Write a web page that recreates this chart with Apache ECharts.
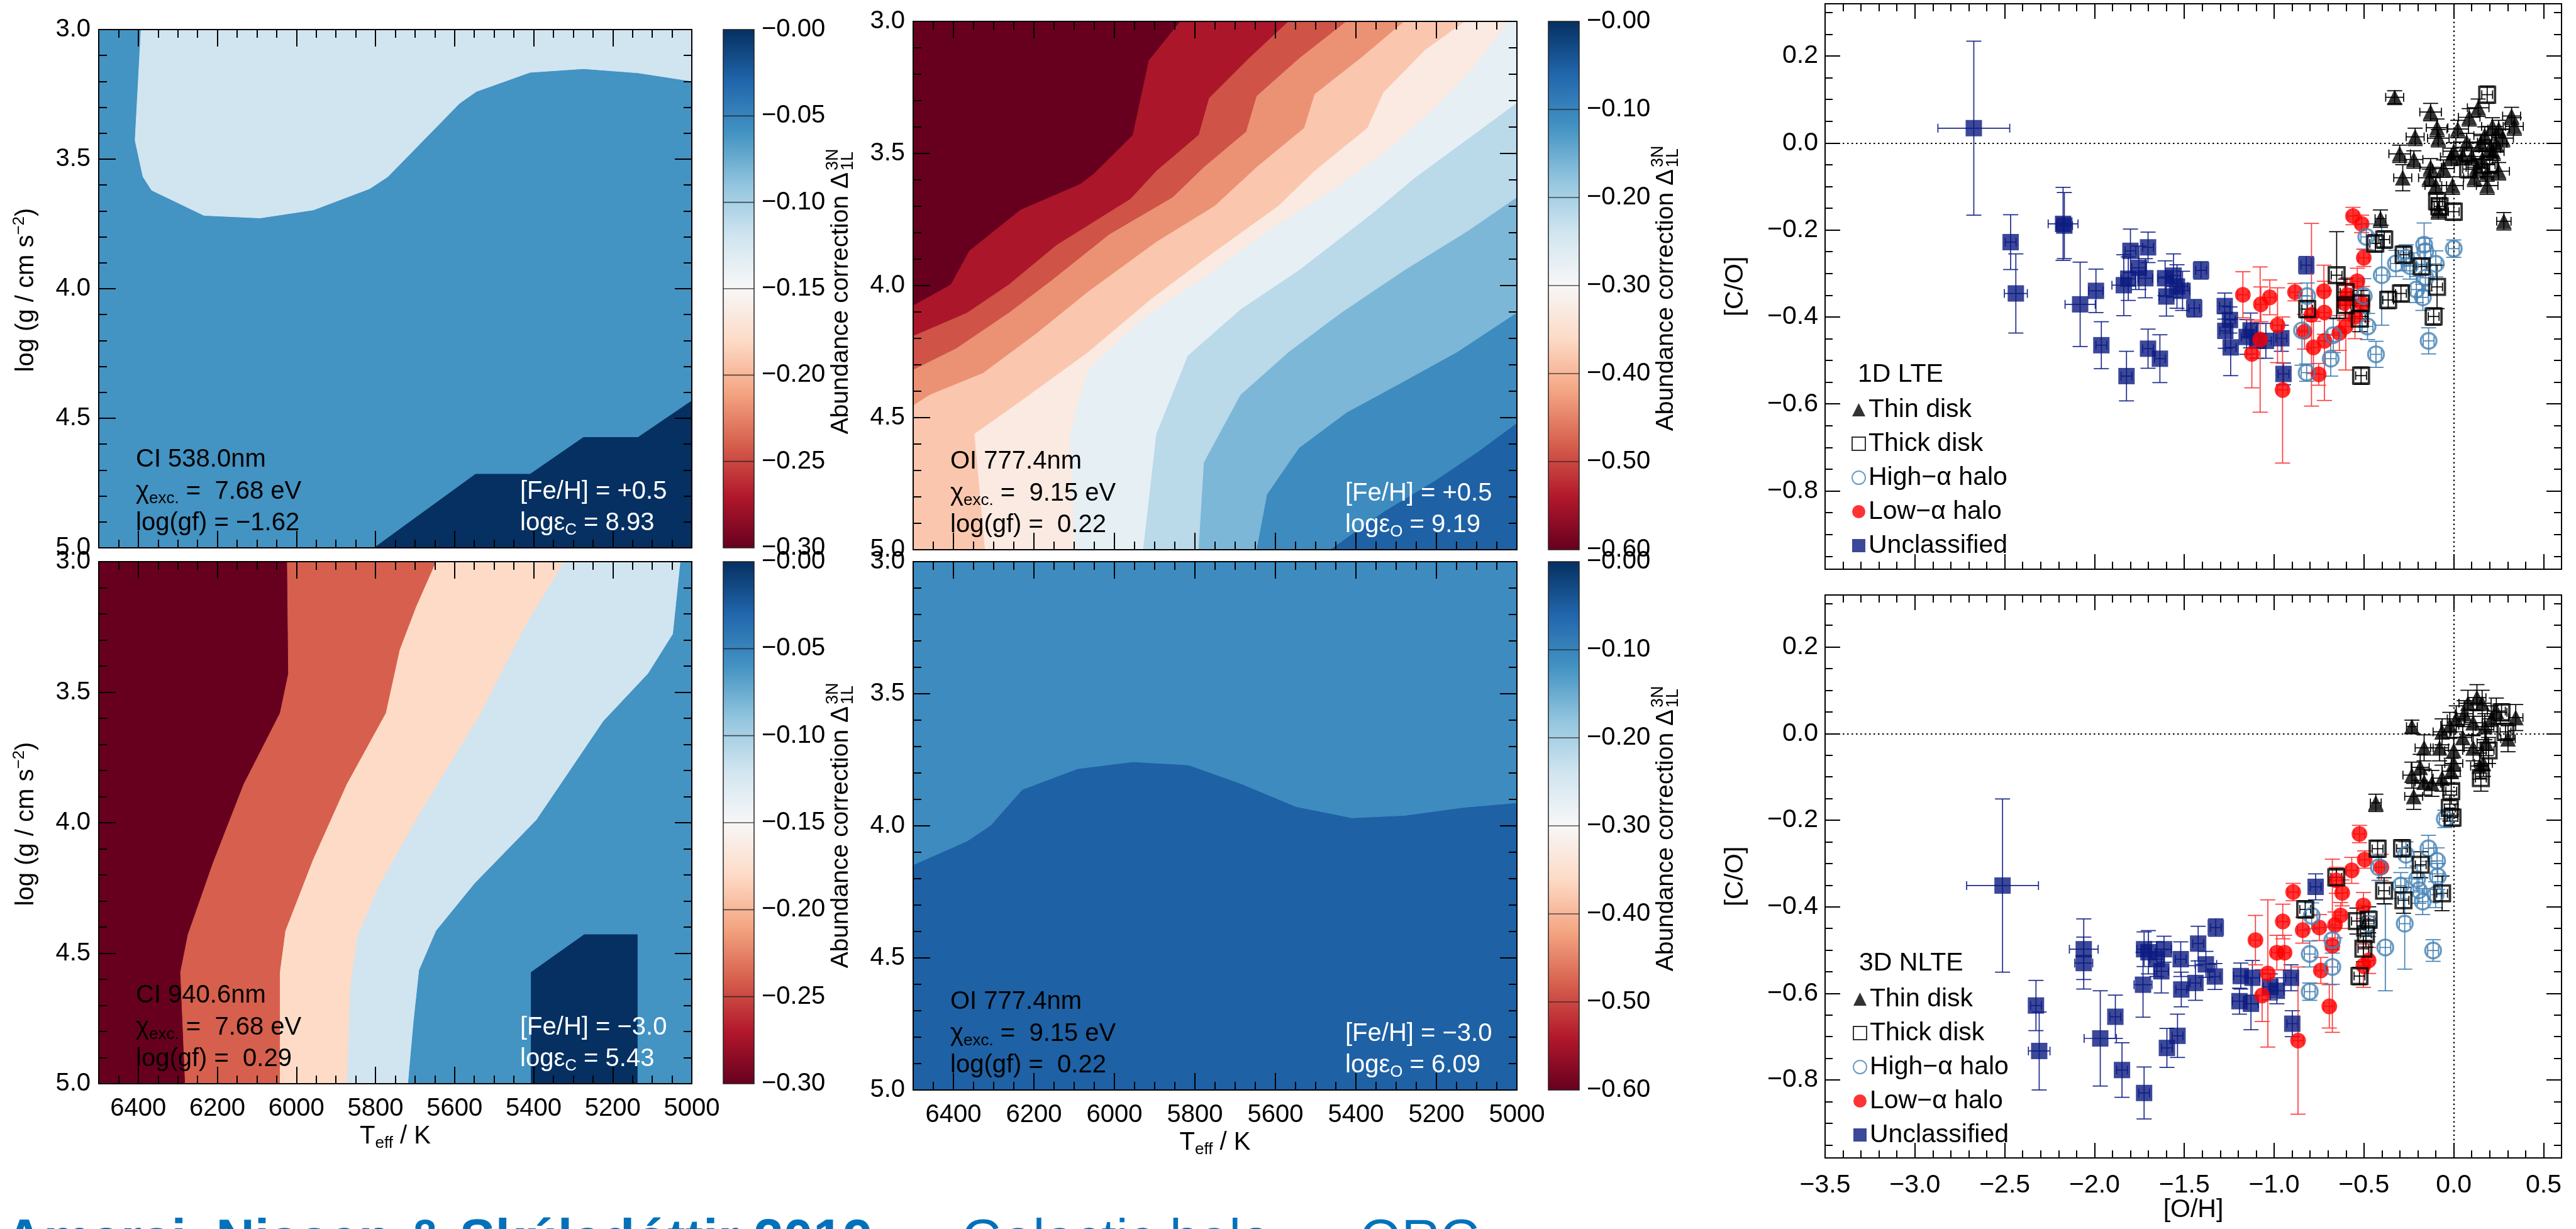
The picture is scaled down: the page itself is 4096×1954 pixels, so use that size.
<!DOCTYPE html>
<html>
<head>
<meta charset="utf-8">
<script src="https://cdn.jsdelivr.net/npm/echarts@6.0.0/dist/echarts.min.js"></script>
<style>
html,body{margin:0;padding:0;background:#ffffff;overflow:hidden;}
#chart{width:4096px;height:1954px;}
</style>
</head>
<body>
<div id="chart"></div>
<script>
// ================= tick labels =================
const teffTicks = [6400, 6200, 6000, 5800, 5600, 5400, 5200, 5000];
const loggTicks = [3.0, 3.5, 4.0, 4.5, 5.0];
const cbTicksC = [-0.30, -0.25, -0.20, -0.15, -0.10, -0.05, 0.00];
const cbTicksO = [-0.60, -0.50, -0.40, -0.30, -0.20, -0.10, 0.00];
const ohTicks = [-3.5, -3.0, -2.5, -2.0, -1.5, -1.0, -0.5, 0.0, 0.5];
const coTicks = [-0.8, -0.6, -0.4, -0.2, 0.0, 0.2];

// ================= contour boundaries: [Teff, logg] =================
// C I 538.0 nm, [Fe/H] = +0.5  (bands of 0.05 from -0.30 to 0)
const ci538Base = 4;
const ci538Light = [[6393,3.0],[6408,3.428],[6388,3.568],[6366,3.62],[6234,3.717],[6092,3.727],[5957,3.696],[5815,3.614],[5769,3.568],[5587,3.284],[5545,3.239],[5409,3.165],[5274,3.151],[5136,3.167],[5000,3.199]];
const ci538Dark = [[5000,4.433],[5136,4.574],[5274,4.574],[5409,4.716],[5547,4.716],[5803,5.0]];

// O I 777.4 nm, [Fe/H] = +0.5  (bands of 0.05 from -0.60 to 0)
const oiHiBase = 0;
const oiHiB1 = [[5836,3.0],[5914,3.148],[5954,3.431],[6052,3.579],[6085,3.617],[6233,3.714],[6360,3.869],[6406,3.997],[6500,4.077]];
const oiHiB2 = [[5567,3.0],[5666,3.141],[5764,3.290],[5790,3.43],[5895,3.566],[5960,3.673],[6144,3.848],[6262,3.997],[6366,4.104],[6500,4.192]];
const oiHiB3 = [[5423,3.0],[5541,3.141],[5646,3.283],[5672,3.418],[5777,3.552],[5855,3.667],[6013,3.808],[6157,3.983],[6262,4.104],[6393,4.239],[6500,4.320]];
const oiHiB4 = [[5279,3.0],[5384,3.135],[5502,3.276],[5528,3.404],[5646,3.552],[5751,3.700],[5895,3.835],[6065,4.024],[6196,4.185],[6327,4.333],[6458,4.414],[6500,4.455]];
const oiHiB5 = [[5128,3.0],[5227,3.108],[5331,3.269],[5371,3.404],[5502,3.566],[5593,3.700],[5777,3.902],[5908,4.051],[6065,4.253],[6235,4.441],[6347,4.562],[6321,5.0]];
const oiHiB6 = [[5020,3.0],[5108,3.175],[5200,3.323],[5318,3.485],[5463,3.646],[5606,3.781],[5777,3.970],[5934,4.131],[6065,4.320],[6111,4.562],[6098,5.0]];
const oiHiB7 = [[5000,3.310],[5108,3.431],[5253,3.593],[5358,3.727],[5541,3.943],[5686,4.091],[5817,4.266],[5895,4.562],[5928,5.0]];
const oiHiB8 = [[5000,3.667],[5122,3.795],[5279,3.943],[5436,4.104],[5567,4.253],[5686,4.414],[5777,4.670],[5790,5.0]];
const oiHiB9 = [[5000,4.104],[5148,4.253],[5292,4.374],[5423,4.482],[5541,4.616],[5620,4.791],[5646,5.0]];
const oiHiB10 = [[5000,4.522],[5096,4.630],[5200,4.737],[5331,4.858],[5463,5.0]];

// C I 940.6 nm, [Fe/H] = -3.0
const ci940Base = 0;
const ci940C1 = [[6023,3.0],[6020,3.429],[6041,3.580],[6133,3.853],[6211,4.156],[6274,4.429],[6293,4.573],[6281,5.0]];
const ci940C2 = [[5646,3.0],[5696,3.171],[5738,3.338],[5773,3.580],[5872,3.853],[5957,4.141],[6027,4.414],[6041,4.573],[6041,5.0]];
const ci940C3 = [[5322,3.0],[5421,3.247],[5533,3.580],[5618,3.792],[5703,4.005],[5787,4.232],[5844,4.429],[5862,4.611],[5872,5.0]];
const ci940C4 = [[5028,3.0],[5047,3.277],[5110,3.429],[5223,3.611],[5392,3.989],[5548,4.232],[5646,4.414],[5689,4.565],[5703,4.762],[5717,5.0]];
const ci940C5 = [[5138,5.0],[5138,4.429],[5272,4.429],[5406,4.573],[5406,5.0]];

// O I 777.4 nm, [Fe/H] = -3.0
const oiLoBase = 9;
const oiLoD1 = [[5000,3.915],[5135,3.933],[5279,3.963],[5410,3.972],[5548,3.930],[5685,3.843],[5816,3.772],[5954,3.760],[6091,3.786],[6229,3.865],[6307,4.000],[6366,4.060],[6500,4.150]];

// ================= [C/O] vs [O/H]: [x, y, xerr, yerr] =================
// 1D LTE
const thinLTE = [[-0.329,0.105,0.05,0.015],[-0.129,0.071,0.06,0.02],[-0.215,0.014,0.05,0.02],[-0.301,-0.025,0.06,0.02],[-0.222,-0.038,0.05,0.02],[-0.284,-0.080,0.05,0.03],[-0.093,0.035,0.06,0.02],[-0.086,0.011,0.06,0.02],[0.022,0.032,0.06,0.02],[0.086,0.059,0.06,0.02],[0.136,0.081,0.06,0.02],[0.072,0.002,0.06,0.02],[0.000,-0.019,0.06,0.02],[-0.014,-0.032,0.06,0.02],[-0.129,-0.056,0.06,0.02],[-0.057,-0.059,0.06,0.02],[-0.136,-0.080,0.06,0.02],[-0.100,-0.098,0.06,0.02],[-0.007,-0.098,0.06,0.02],[0.100,-0.031,0.06,0.02],[0.172,0.017,0.06,0.02],[0.215,0.038,0.06,0.02],[0.250,0.032,0.06,0.02],[0.322,0.062,0.05,0.02],[0.337,0.038,0.05,0.02],[0.272,0.011,0.06,0.02],[0.236,-0.001,0.06,0.02],[0.201,-0.013,0.06,0.02],[0.158,-0.038,0.06,0.02],[0.129,-0.056,0.06,0.02],[0.186,-0.068,0.06,0.02],[0.115,-0.080,0.06,0.02],[0.186,-0.098,0.06,0.02],[0.250,-0.065,0.06,0.02],[0.279,-0.180,0.04,0.02],[-0.408,-0.174,0.03,0.02],[-0.086,-0.155,0.04,0.02],[0.050,-0.030,0.06,0.02],[0.150,0.000,0.06,0.02],[0.220,-0.020,0.06,0.02]];
const thickLTE = [[-0.437,-0.231,0.03,0.02],[-0.387,-0.222,0.03,0.02],[-0.652,-0.304,0.03,0.10],[-0.602,-0.343,0.03,0.03],[-0.602,-0.373,0.03,0.03],[-0.516,-0.369,0.03,0.03],[-0.523,-0.404,0.03,0.03],[-0.816,-0.382,0.03,0.02],[-0.279,-0.257,0.03,0.02],[-0.365,-0.361,0.03,0.02],[-0.294,-0.346,0.03,0.02],[-0.179,-0.284,0.03,0.02],[-0.093,-0.331,0.03,0.05],[-0.112,-0.399,0.03,0.02],[-0.516,-0.535,0.03,0.02],[0.186,0.111,0.03,0.02],[-0.079,-0.146,0.03,0.02],[0.000,-0.158,0.03,0.02],[-0.093,-0.134,0.03,0.02],[0.080,-0.060,0.03,0.02],[0.200,-0.050,0.03,0.02]];
const highLTE = [[-0.816,-0.352,0.03,0.03],[-0.845,-0.431,0.03,0.08],[-0.819,-0.528,0.03,0.02],[-0.685,-0.496,0.03,0.04],[-0.671,-0.442,0.03,0.04],[-0.487,-0.216,0.03,0.03],[-0.401,-0.304,0.03,0.115],[-0.322,-0.277,0.03,0.03],[-0.265,-0.264,0.03,0.03],[-0.244,-0.283,0.03,0.03],[-0.165,-0.234,0.03,0.05],[-0.158,-0.249,0.03,0.03],[-0.100,-0.278,0.03,0.03],[-0.158,-0.310,0.03,0.03],[-0.208,-0.337,0.03,0.03],[-0.172,-0.355,0.03,0.03],[0.000,-0.243,0.03,0.02],[-0.140,-0.455,0.03,0.03],[-0.433,-0.486,0.03,0.03],[-0.480,-0.422,0.03,0.03],[-0.501,-0.352,0.03,0.04]];
const lowLTE = [[-1.174,-0.349,0.03,0.053],[-1.124,-0.485,0.03,0.078],[-1.074,-0.371,0.03,0.04],[-1.078,-0.452,0.03,0.167],[-1.024,-0.355,0.03,0.04],[-0.981,-0.419,0.03,0.086],[-0.953,-0.568,0.03,0.168],[-0.884,-0.343,0.03,0.02],[-0.831,-0.434,0.03,0.04],[-0.792,-0.395,0.03,0.21],[-0.781,-0.470,0.03,0.06],[-0.752,-0.532,0.03,0.025],[-0.723,-0.341,0.03,0.06],[-0.720,-0.390,0.03,0.05],[-0.720,-0.455,0.03,0.137],[-0.637,-0.437,0.03,0.04],[-0.601,-0.422,0.03,0.10],[-0.609,-0.368,0.03,0.04],[-0.594,-0.350,0.03,0.04],[-0.561,-0.168,0.03,0.02],[-0.513,-0.186,0.03,0.02],[-0.501,-0.264,0.03,0.02],[-0.537,-0.318,0.03,0.03],[-0.508,-0.370,0.03,0.04],[-0.550,-0.400,0.03,0.05]];
const unclLTE = [[-2.672,0.034,0.20,0.20],[-2.467,-0.228,0.03,0.063],[-2.438,-0.346,0.064,0.091],[-2.175,-0.186,0.083,0.084],[-2.168,-0.190,0.045,0.076],[-2.080,-0.371,0.084,0.097],[-1.992,-0.340,0.04,0.05],[-1.962,-0.465,0.03,0.054],[-1.837,-0.327,0.066,0.07],[-1.812,-0.312,0.04,0.05],[-1.800,-0.248,0.03,0.05],[-1.822,-0.536,0.03,0.057],[-1.753,-0.287,0.04,0.05],[-1.717,-0.311,0.04,0.045],[-1.702,-0.240,0.03,0.035],[-1.702,-0.473,0.03,0.045],[-1.636,-0.496,0.03,0.055],[-1.607,-0.311,0.04,0.04],[-1.560,-0.305,0.04,0.05],[-1.600,-0.353,0.04,0.045],[-1.541,-0.330,0.06,0.05],[-1.510,-0.340,0.04,0.045],[-1.407,-0.293,0.03,0.02],[-1.445,-0.380,0.03,0.02],[-1.275,-0.375,0.03,0.03],[-1.246,-0.407,0.03,0.03],[-1.272,-0.432,0.03,0.04],[-1.242,-0.470,0.03,0.065],[-1.153,-0.446,0.03,0.04],[-1.131,-0.431,0.03,0.04],[-1.096,-0.455,0.03,0.04],[-1.046,-0.455,0.03,0.04],[-0.960,-0.449,0.03,0.03],[-0.948,-0.531,0.03,0.025],[-0.821,-0.281,0.03,0.02]];
// 3D NLTE
const thinNLTE = [[-0.233,0.016,0.03,0.015],[-0.434,-0.160,0.03,0.02],[-0.223,-0.145,0.05,0.03],[-0.233,-0.096,0.05,0.03],[-0.187,-0.078,0.05,0.03],[-0.165,-0.033,0.05,0.03],[-0.165,-0.112,0.05,0.03],[-0.122,-0.115,0.05,0.03],[-0.079,-0.033,0.05,0.03],[-0.065,0.004,0.05,0.03],[-0.022,0.019,0.05,0.03],[0.000,-0.039,0.05,0.03],[0.000,-0.069,0.05,0.03],[-0.014,-0.087,0.05,0.03],[-0.065,-0.103,0.05,0.03],[0.058,0.046,0.05,0.03],[0.079,0.070,0.05,0.03],[0.129,0.083,0.05,0.03],[0.158,0.070,0.05,0.03],[0.108,0.025,0.05,0.03],[0.173,0.016,0.05,0.03],[0.209,0.034,0.05,0.03],[0.237,0.052,0.05,0.03],[0.345,0.037,0.04,0.03],[0.302,-0.012,0.04,0.03],[0.180,-0.021,0.05,0.03],[0.108,-0.033,0.05,0.03],[0.165,-0.069,0.05,0.03],[0.144,-0.075,0.05,0.03],[0.050,-0.009,0.05,0.03],[0.014,0.034,0.05,0.03]];
const thickNLTE = [[-0.424,-0.266,0.03,0.02],[-0.288,-0.265,0.03,0.02],[-0.184,-0.303,0.03,0.03],[-0.654,-0.332,0.03,0.02],[-0.388,-0.363,0.03,0.03],[-0.827,-0.406,0.03,0.02],[-0.280,-0.385,0.03,0.03],[-0.065,-0.369,0.03,0.04],[-0.539,-0.433,0.03,0.03],[-0.474,-0.430,0.03,0.03],[-0.489,-0.463,0.03,0.03],[-0.503,-0.497,0.03,0.03],[-0.525,-0.560,0.03,0.02],[0.151,-0.103,0.03,0.03],[0.194,-0.039,0.03,0.03],[0.266,0.049,0.03,0.02],[0.288,0.004,0.03,0.02],[-0.014,-0.133,0.03,0.03],[-0.022,-0.172,0.03,0.03],[-0.007,-0.194,0.03,0.02]];
const highNLTE = [[-0.050,-0.197,0.03,0.02],[-0.266,-0.280,0.03,0.03],[-0.141,-0.265,0.03,0.03],[-0.093,-0.294,0.03,0.03],[-0.089,-0.330,0.03,0.03],[-0.204,-0.336,0.03,0.03],[-0.194,-0.362,0.03,0.03],[-0.173,-0.388,0.03,0.03],[-0.101,-0.372,0.03,0.03],[-0.417,-0.309,0.03,0.03],[-0.273,-0.439,0.03,0.105],[-0.381,-0.494,0.03,0.10],[-0.115,-0.501,0.03,0.025],[-0.295,-0.351,0.03,0.03],[-0.791,-0.421,0.03,0.03],[-0.802,-0.509,0.03,0.03],[-0.802,-0.596,0.03,0.02],[-0.676,-0.477,0.03,0.03],[-0.676,-0.539,0.03,0.04],[-0.474,-0.439,0.03,0.03]];
const lowNLTE = [[-1.104,-0.477,0.03,0.057],[-1.035,-0.554,0.03,0.17],[-1.067,-0.605,0.03,0.06],[-0.985,-0.506,0.03,0.04],[-0.942,-0.506,0.03,0.04],[-0.952,-0.434,0.03,0.04],[-0.894,-0.366,0.03,0.02],[-0.841,-0.454,0.03,0.03],[-0.867,-0.709,0.03,0.17],[-0.748,-0.448,0.03,0.03],[-0.740,-0.547,0.03,0.03],[-0.676,-0.490,0.03,0.20],[-0.693,-0.630,0.03,0.05],[-0.661,-0.442,0.03,0.03],[-0.630,-0.420,0.03,0.03],[-0.621,-0.368,0.03,0.03],[-0.654,-0.339,0.03,0.03],[-0.568,-0.316,0.03,0.03],[-0.525,-0.232,0.03,0.02],[-0.496,-0.291,0.03,0.02],[-0.503,-0.397,0.03,0.03],[-0.474,-0.524,0.03,0.03],[-0.503,-0.536,0.03,0.05],[-0.403,-0.309,0.03,0.03]];
const unclNLTE = [[-2.512,-0.351,0.20,0.20],[-2.326,-0.628,0.03,0.058],[-2.308,-0.733,0.06,0.09],[-2.060,-0.498,0.08,0.07],[-2.060,-0.530,0.05,0.06],[-1.968,-0.704,0.09,0.11],[-1.884,-0.654,0.03,0.05],[-1.847,-0.777,0.03,0.063],[-1.724,-0.830,0.03,0.06],[-1.730,-0.580,0.05,0.075],[-1.724,-0.498,0.04,0.04],[-1.700,-0.505,0.04,0.05],[-1.653,-0.521,0.04,0.04],[-1.628,-0.549,0.04,0.05],[-1.613,-0.498,0.04,0.03],[-1.597,-0.726,0.03,0.045],[-1.538,-0.698,0.03,0.05],[-1.517,-0.591,0.03,0.04],[-1.520,-0.521,0.03,0.04],[-1.438,-0.576,0.03,0.04],[-1.423,-0.485,0.03,0.04],[-1.380,-0.533,0.06,0.03],[-1.325,-0.448,0.03,0.02],[-1.330,-0.561,0.03,0.03],[-1.186,-0.560,0.04,0.03],[-1.121,-0.564,0.04,0.04],[-1.193,-0.618,0.04,0.03],[-1.129,-0.624,0.04,0.06],[-1.021,-0.585,0.04,0.03],[-0.985,-0.594,0.04,0.03],[-0.906,-0.564,0.03,0.03],[-0.899,-0.670,0.03,0.03],[-0.769,-0.354,0.03,0.03]];

const refLinesX = [0];   // dotted [O/H] = 0
const refLinesY = [0];   // dotted [C/O] = 0

// ================= styling / layout =================
const FONT = '"Liberation Sans", Arial, Helvetica, sans-serif';
const RDBU = ['#67001f','#b2182b','#d6604d','#f4a582','#fddbc7','#f7f7f7','#d1e5f0','#92c5de','#4393c3','#2166ac','#053061'];
function hex2rgb(h){ return [parseInt(h.slice(1,3),16), parseInt(h.slice(3,5),16), parseInt(h.slice(5,7),16)]; }
function rdbu(f){
  const x = Math.max(0, Math.min(1, f)) * 10;
  const i = Math.min(9, Math.floor(x)), t = x - i;
  const a = hex2rgb(RDBU[i]), b = hex2rgb(RDBU[i+1]);
  return 'rgb(' + a.map((v,k) => Math.round(v + (b[k]-v)*t)).join(',') + ')';
}
function bandColor(k, n){ return rdbu(k / (n - 1)); }

const TMIN = 5000, TMAX = 6500, GMIN = 3.0, GMAX = 5.0;
const corners = [[TMAX,GMIN],[TMIN,GMIN],[TMIN,GMAX],[TMAX,GMAX]]; // screen TL, TR, BR, BL
function perim(T, g){
  const e = 1e-6;
  if (Math.abs(g - GMIN) < e) return (TMAX - T) / (TMAX - TMIN);
  if (Math.abs(T - TMIN) < e) return 1 + (g - GMIN) / (GMAX - GMIN);
  if (Math.abs(g - GMAX) < e) return 2 + (T - TMIN) / (TMAX - TMIN);
  return 3 + (GMAX - g) / (GMAX - GMIN);
}
function closeCCW(curve){
  const pS = perim(curve[0][0], curve[0][1]);
  const pE = perim(curve[curve.length-1][0], curve[curve.length-1][1]);
  const pts = curve.slice();
  let target = pS; if (target > pE) target -= 4;
  for (let c = Math.ceil(pE) - 1; c > target; c--) pts.push(corners[((c % 4) + 4) % 4]);
  return pts;
}

const G = [
  {left:157, top:47, width:943, height:824},
  {left:1452, top:34, width:960, height:840},
  {left:157, top:893, width:943, height:830},
  {left:1452, top:893, width:960, height:840},
  {left:1150, top:47, width:49, height:824},
  {left:2462, top:34, width:49, height:840},
  {left:1150, top:893, width:49, height:830},
  {left:2462, top:893, width:49, height:840},
  {left:2902, top:6, width:1171, height:899},
  {left:2902, top:946, width:1171, height:895}
];

const xAxes = [], yAxes = [], series = [];
function tickAxis(dim, gi, range, inverse, pos, vals, len, line, label){
  const a = {
    type:'value', gridIndex:gi, min:range[0], max:range[1], inverse:inverse, position:pos, z:10,
    splitLine:{show:false},
    axisLine:{show:line, onZero:false, lineStyle:{color:'#000', width:2}},
    axisTick:{show:true, inside:true, length:len, customValues:vals, lineStyle:{color:'#000', width:2}},
    axisLabel: label ? Object.assign({show:true, customValues:vals, color:'#000', fontFamily:FONT}, label) : {show:false},
    axisPointer:{show:false}
  };
  const arr = dim === 'x' ? xAxes : yAxes;
  arr.push(a); return arr.length - 1;
}
function box(gi, xr, xinv, xMaj, xMin, xLab, yr, yinv, yMaj, yMin, yLab, maj, mnr){
  const xi = tickAxis('x', gi, xr, xinv, 'bottom', xMaj, maj, true, xLab);
  tickAxis('x', gi, xr, xinv, 'bottom', xMin, mnr, false, null);
  tickAxis('x', gi, xr, xinv, 'top', xMaj, maj, true, null);
  tickAxis('x', gi, xr, xinv, 'top', xMin, mnr, false, null);
  const yi = tickAxis('y', gi, yr, yinv, 'left', yMaj, maj, true, yLab);
  tickAxis('y', gi, yr, yinv, 'left', yMin, mnr, false, null);
  tickAxis('y', gi, yr, yinv, 'right', yMaj, maj, true, null);
  tickAxis('y', gi, yr, yinv, 'right', yMin, mnr, false, null);
  return {xi:xi, yi:yi};
}
const minus = v => (v < 0 ? '\u2212' : '') + Math.abs(v).toFixed(1);

const teffMinor = []; for (let t = TMIN; t <= TMAX; t += 50) teffMinor.push(t);
const loggMinor = []; for (let i = 0; i <= 20; i++) loggMinor.push(+(GMIN + 0.1*i).toFixed(1));
const ohMinor = []; for (let i = 0; i <= 41; i++) ohMinor.push(+(-3.5 + 0.1*i).toFixed(1));
const coMinor = []; for (let i = 0; i <= 25; i++) coMinor.push(+(-0.95 + 0.05*i).toFixed(2));

// ---------- contour panels ----------
const contourPanels = [
  {g:0, n:6, base:ci538Base, regions:[[3,ci538Light],[5,ci538Dark]], xlab:false},
  {g:1, n:12, base:oiHiBase, regions:[[1,oiHiB1],[2,oiHiB2],[3,oiHiB3],[4,oiHiB4],[5,oiHiB5],[6,oiHiB6],[7,oiHiB7],[8,oiHiB8],[9,oiHiB9],[10,oiHiB10]], xlab:false},
  {g:2, n:6, base:ci940Base, regions:[[1,ci940C1],[2,ci940C2],[3,ci940C3],[4,ci940C4],[5,ci940C5]], xlab:true},
  {g:3, n:12, base:oiLoBase, regions:[[10,oiLoD1]], xlab:true}
];
contourPanels.forEach(P => {
  const ax = box(P.g, [TMIN,TMAX], true, teffTicks, teffMinor,
    P.xlab ? {fontSize:40, margin:20, formatter: v => String(v)} : null,
    [GMIN,GMAX], true, loggTicks, loggMinor, {fontSize:40, margin:13, formatter: v => v.toFixed(1)}, 27, 13);
  const polys = [{band:P.base, pts:corners.slice()}].concat(P.regions.map(r => ({band:r[0], pts:closeCCW(r[1])})));
  series.push({
    type:'custom', coordinateSystem:'cartesian2d', xAxisIndex:ax.xi, yAxisIndex:ax.yi, silent:true, z:2,
    data: polys.map(p => p.pts[0]),
    renderItem: function(params, api){
      const p = polys[params.dataIndex];
      const c = bandColor(p.band, P.n);
      return {type:'polygon', shape:{points:p.pts.map(q => api.coord(q))}, style:{fill:c, stroke:c, lineWidth:1}};
    }
  });
});

// ---------- colour bars ----------
const colourBars = [
  {g:4, min:-0.30, ticks:cbTicksC}, {g:5, min:-0.60, ticks:cbTicksO},
  {g:6, min:-0.30, ticks:cbTicksC}, {g:7, min:-0.60, ticks:cbTicksO}
];
colourBars.forEach(B => {
  xAxes.push({type:'value', gridIndex:B.g, min:0, max:1, show:false});
  const xi = xAxes.length - 1;
  yAxes.push({type:'value', gridIndex:B.g, min:B.min, max:0, position:'right', z:10,
    splitLine:{show:false}, axisLine:{show:false}, axisTick:{show:false}, axisPointer:{show:false},
    axisLabel:{show:true, customValues:B.ticks, formatter: v => '\u2212' + Math.abs(v).toFixed(2), fontSize:40, fontFamily:FONT, color:'#000', margin:12}});
  const yi = yAxes.length - 1;
  const stops = RDBU.map((c,i) => ({offset:i/10, color:RDBU[10-i]}));
  series.push({
    type:'custom', coordinateSystem:'cartesian2d', xAxisIndex:xi, yAxisIndex:yi, silent:true, z:2,
    data:[[0, B.min]],
    renderItem: function(params, api){
      const tl = api.coord([0, 0]), br = api.coord([1, B.min]);
      const w = br[0] - tl[0], h = br[1] - tl[1];
      const ch = [{type:'rect', shape:{x:tl[0], y:tl[1], width:w, height:h},
        style:{fill:new echarts.graphic.LinearGradient(0,0,0,1,stops)}}];
      B.ticks.forEach(v => {
        if (v === 0 || v === B.min) return;
        const p = api.coord([0, v]);
        ch.push({type:'line', shape:{x1:tl[0], y1:p[1], x2:br[0], y2:p[1]}, style:{stroke:'rgba(30,30,30,0.75)', lineWidth:1.6}});
      });
      ch.push({type:'rect', shape:{x:tl[0], y:tl[1], width:w, height:h}, style:{fill:'none', stroke:'#222', lineWidth:1.5}});
      return {type:'group', children:ch};
    }
  });
});

// ---------- scatter panels ----------
const NAVY = '#0b1a80', RED = '#ff0000', STEEL = '#4682b4';
const groupStyles = [
  {name:'Unclassified', symbol:'rect', size:26, item:{color:NAVY}, err:'#1c2a8c'},
  {name:'Low\u2212\u03b1 halo', symbol:'circle', size:25, item:{color:RED}, err:'#ff3b3b'},
  {name:'High\u2212\u03b1 halo', symbol:'circle', size:25, item:{color:'rgba(0,0,0,0)', borderColor:STEEL, borderWidth:3.4}, err:STEEL},
  {name:'Thick disk', symbol:'rect', size:25, item:{color:'rgba(0,0,0,0)', borderColor:'#000', borderWidth:3.8}, err:'#000'},
  {name:'Thin disk', symbol:'triangle', size:25, item:{color:'#000'}, err:'#000'}
];
const scatterPanels = [
  {g:8, data:[unclLTE, lowLTE, highLTE, thickLTE, thinLTE], xlab:false},
  {g:9, data:[unclNLTE, lowNLTE, highNLTE, thickNLTE, thinNLTE], xlab:true}
];
function errRender(color){
  return function(params, api){
    const x = api.value(0), y = api.value(1), ex = api.value(2), ey = api.value(3);
    const c = api.coord([x, y]);
    const t = api.coord([x, y + ey]), b = api.coord([x, y - ey]);
    const l = api.coord([x - ex, y]), r = api.coord([x + ex, y]);
    const st = {stroke:color, lineWidth:1.7, fill:null};
    const ln = (x1,y1,x2,y2) => ({type:'line', shape:{x1:x1,y1:y1,x2:x2,y2:y2}, style:st});
    const cy = 12, cx = 7;
    return {type:'group', children:[
      ln(c[0], t[1], c[0], b[1]), ln(c[0]-cy, t[1], c[0]+cy, t[1]), ln(c[0]-cy, b[1], c[0]+cy, b[1]),
      ln(l[0], c[1], r[0], c[1]), ln(l[0], c[1]-cx, l[0], c[1]+cx), ln(r[0], c[1]-cx, r[0], c[1]+cx)
    ]};
  };
}
scatterPanels.forEach(P => {
  const ax = box(P.g, [-3.5, 0.6], false, ohTicks, ohMinor,
    P.xlab ? {fontSize:41, margin:23, formatter:minus} : null,
    [-0.98, 0.32], false, coTicks, coMinor, {fontSize:41, margin:11, formatter:minus}, 24, 12);
  groupStyles.forEach((S, k) => {
    series.push({type:'custom', name:'err ' + S.name, coordinateSystem:'cartesian2d', xAxisIndex:ax.xi, yAxisIndex:ax.yi,
      silent:true, z:3, data:P.data[k], encode:{x:0, y:1}, renderItem:errRender(S.err)});
  });
  groupStyles.forEach((S, k) => {
    const s = {type:'scatter', name:S.name, xAxisIndex:ax.xi, yAxisIndex:ax.yi, data:P.data[k], encode:{x:0, y:1},
      symbol:S.symbol, symbolSize:S.size, itemStyle:S.item, z:4 + k, silent:true, emphasis:{disabled:true}};
    if (k === 0) {
      s.markLine = {symbol:'none', silent:true, label:{show:false}, animation:false,
        lineStyle:{type:[2.5,4.5], color:'#000', width:2.2},
        data: refLinesY.map(v => ({yAxis:v})).concat(refLinesX.map(v => ({xAxis:v})))};
    }
    series.push(s);
  });
});

// ---------- texts ----------
const graphics = [];
function txt(x, y, text, opt){
  graphics.push(Object.assign({type:'text', x:x, y:y, z:100, silent:true,
    style:Object.assign({text:text, fontSize:40, fontFamily:FONT, fill:'#000', align:'left', verticalAlign:'middle'}, opt && opt.style)},
    opt && opt.el));
}
function richStyles(fs, color){
  return {
    n:{fontSize:fs, fontFamily:FONT, fill:color, lineHeight:fs*1.2},
    sub:{fontSize:Math.round(fs*0.66), fontFamily:FONT, fill:color, lineHeight:Math.round(fs*0.66), verticalAlign:'bottom'},
    sup:{fontSize:Math.round(fs*0.66), fontFamily:FONT, fill:color, lineHeight:Math.round(fs*0.66), verticalAlign:'top'}
  };
}
const annotations = [
  {g:0, line:'CI 538.0nm', chi:' =  7.68 eV', gf:'log(gf) = \u22121.62', feh:'[Fe/H] = +0.5', el:'C', eps:' = 8.93'},
  {g:1, line:'OI 777.4nm', chi:' =  9.15 eV', gf:'log(gf) =  0.22', feh:'[Fe/H] = +0.5', el:'O', eps:' = 9.19'},
  {g:2, line:'CI 940.6nm', chi:' =  7.68 eV', gf:'log(gf) =  0.29', feh:'[Fe/H] = \u22123.0', el:'C', eps:' = 5.43'},
  {g:3, line:'OI 777.4nm', chi:' =  9.15 eV', gf:'log(gf) =  0.22', feh:'[Fe/H] = \u22123.0', el:'O', eps:' = 6.09'}
];
annotations.forEach(A => {
  const g = G[A.g], bot = g.top + g.height;
  const lx = g.left + 59, rx = g.left + g.width - 273;
  txt(lx, bot - 140, A.line);
  txt(lx, bot - 89, '{n|\u03c7}{sub|exc.}{n|' + A.chi + '}', {style:{rich:richStyles(40,'#000')}});
  txt(lx, bot - 39, A.gf);
  txt(rx, bot - 89, A.feh, {style:{fill:'#fff'}});
  txt(rx, bot - 39, '{n|log\u03b5}{sub|' + A.el + '}{n|' + A.eps + '}', {style:{rich:richStyles(40,'#fff')}});
});
// colour bar titles
function cbTitle(cx, cy){
  const fs = 39;
  graphics.push({type:'group', x:cx, y:cy, rotation:Math.PI/2, z:100, silent:true, children:[
    {type:'text', x:190, y:0, z:100, style:{text:'Abundance correction \u0394', fontSize:fs, fontFamily:FONT, fill:'#000', align:'right', verticalAlign:'middle'}},
    {type:'text', x:193, y:-12, z:100, style:{text:'3N', fontSize:27, fontFamily:FONT, fill:'#000', align:'left', verticalAlign:'middle'}},
    {type:'text', x:193, y:12, z:100, style:{text:'1L', fontSize:27, fontFamily:FONT, fill:'#000', align:'left', verticalAlign:'middle'}}
  ]});
}
[[4,0],[5,1],[6,2],[7,3]].forEach(([cb, p]) => {
  const c = G[cb], pg = G[p];
  cbTitle(c.left + c.width + 138, pg.top + pg.height/2 + 5);
});
// y-axis titles of contour panels
[0, 2].forEach(p => {
  const g = G[p];
  txt(42, g.top + g.height/2 + 2, '{n|log (g / cm s}{sup|\u22122}{n|)}',
    {style:{rich:richStyles(40,'#000'), align:'center'}, el:{rotation:Math.PI/2}});
});
// x-axis titles
[2, 3].forEach(p => {
  const g = G[p];
  txt(g.left + g.width/2, g.top + g.height + 84, '{n|T}{sub|eff}{n| / K}', {style:{rich:richStyles(40,'#000'), align:'center'}});
});
// scatter titles
[8, 9].forEach(p => {
  const g = G[p];
  txt(2760, g.top + g.height/2, '[C/O]', {style:{fontSize:41, align:'center'}, el:{rotation:Math.PI/2}});
});
txt(G[9].left + G[9].width/2, 1924, '[O/H]', {style:{fontSize:41, align:'center'}});
txt(2954, 596, '1D LTE', {style:{fontSize:41}});
txt(2956, 1532, '3D NLTE', {style:{fontSize:41}});
// footer (cut by the bottom edge, as in the original slide)
graphics.push({type:'text', x:8, y:1932, z:100, silent:true, style:{
  text:'{b|Amarsi, Nissen & Sk\u00falad\u00f3ttir 2019}{r|  \u2013  Galactic halo  \u2013  ORG}',
  rich:{b:{fontSize:85, fontWeight:'bold', fontFamily:FONT, fill:'#0072bb'}, r:{fontSize:85, fontFamily:FONT, fill:'#0072bb'}},
  align:'left', verticalAlign:'top'}});

const legendNames = ['Thin disk', 'Thick disk', 'High\u2212\u03b1 halo', 'Low\u2212\u03b1 halo', 'Unclassified'];
const legendCommon = {data:legendNames, orient:'vertical', itemWidth:21, itemHeight:21, itemGap:13, selectedMode:false,
  textStyle:{fontSize:41, fontFamily:FONT, color:'#000'}, padding:0};

const chart = echarts.init(document.getElementById('chart'), null, {renderer:'canvas', width:4096, height:1954});
chart.setOption({
  animation:false,
  backgroundColor:'#ffffff',
  textStyle:{fontFamily:FONT},
  grid:G.map(g => Object.assign({containLabel:false}, g)),
  xAxis:xAxes,
  yAxis:yAxes,
  legend:[Object.assign({left:2944, top:631}, legendCommon), Object.assign({left:2946, top:1568}, legendCommon)],
  series:series,
  graphic:{elements:graphics}
});
</script>
</body>
</html>
